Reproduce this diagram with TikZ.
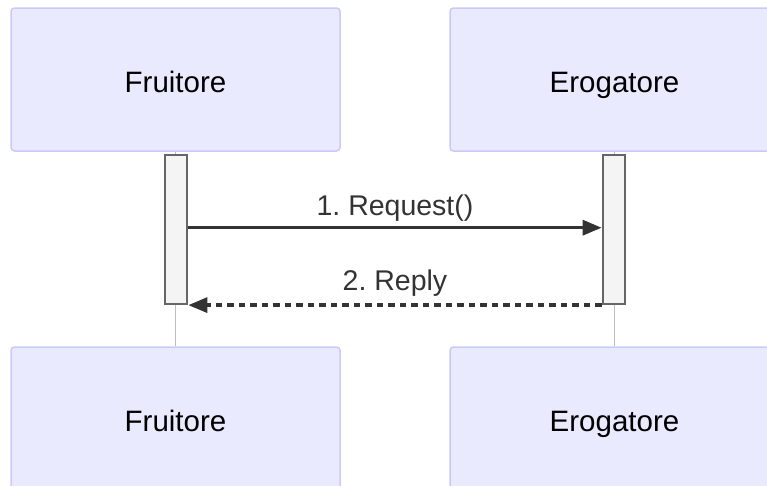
\documentclass[tikz,border=0pt]{standalone}
\usepackage{fontspec}
\setmainfont{Liberation Sans}
\usetikzlibrary{arrows.meta}
\definecolor{actorfill}{HTML}{EAEAFF}
\definecolor{actorline}{HTML}{CACAFA}
\definecolor{lifeline}{HTML}{BDBDBD}
\definecolor{actfill}{HTML}{F4F4F4}
\definecolor{actline}{HTML}{666666}
\definecolor{msgline}{HTML}{333333}
\frenchspacing
\tikzset{
  actorbox/.style={draw=actorline, fill=actorfill, line width=1.5pt, rounded corners=3.5pt,
    minimum width=329pt, minimum height=143pt, inner sep=0pt},
  actorlabel/.style={anchor=base, inner sep=0pt, font=\fontsize{29.5}{35}\selectfont, text=black},
  lifelinestyle/.style={draw=lifeline, line width=1.8pt},
  activation/.style={draw=actline, fill=actfill, line width=2.2pt, minimum width=22.5pt,
    minimum height=149pt, inner sep=0pt},
  msgarrow/.style={draw=msgline, line width=3.3pt, -{Triangle[length=19pt,width=15pt]}},
  msgdashed/.style={msgarrow, dash pattern=on 6.5pt off 5pt},
  msglabel/.style={anchor=base, inner sep=0pt, font=\fontsize{28.5}{34}\selectfont, text=msgline}
}
\begin{document}
\begin{tikzpicture}[x=1pt,y=-1pt]
\useasboundingbox (0,0) rectangle (767,485);
\clip (0,0) rectangle (767,485);
\fill[white] (0,0) rectangle (767,485);

% actor boxes
\node[actorbox] (ftop) at (175.5,79.5) {};
\node[actorbox] (etop) at (614.5,79.5) {};
\node[actorbox] (fbot) at (175.5,418.5) {};
\node[actorbox] (ebot) at (614.5,418.5) {};

\node[actorlabel] (ftoplbl) at (175.5,92.3) {Fruitore};
\node[actorlabel] (etoplbl) at (614.5,92.3) {Erogatore};
\node[actorlabel] (fbotlbl) at (175.5,431.3) {Fruitore};
\node[actorlabel] (ebotlbl) at (614.5,431.3) {Erogatore};

% lifelines
\draw[lifelinestyle] (ftop.south) -- (fbot.north);
\draw[lifelinestyle] (etop.south) -- (ebot.north);

% activations
\node[activation] (actl) at (176,229.5) {};
\node[activation] (actr) at (614,229.5) {};

% messages
\coordinate (reqs) at (actl.east |- 0,227.7);
\coordinate (reqe) at (actr.west |- 0,227.7);
\draw[msgarrow] (reqs) -- (reqe);
\node[msglabel] (reqlbl) at (395,215) {1. Request()};

\coordinate (reps) at (actr.south west);
\coordinate (repe) at (actl.south east);
\draw[msgdashed] (reps) -- (repe);
\node[msglabel] (replbl) at (395,290) {2. Reply};
\end{tikzpicture}
\end{document}
